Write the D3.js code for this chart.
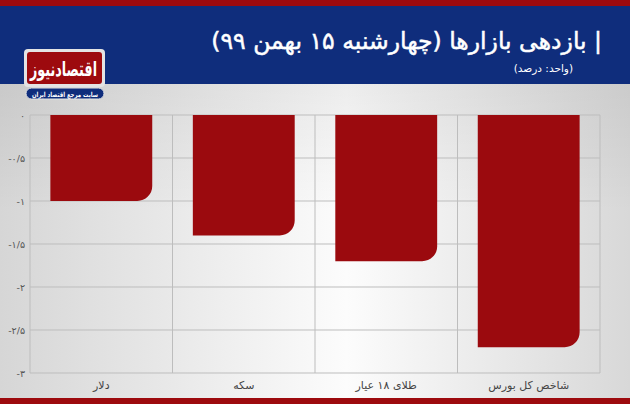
<!DOCTYPE html>
<html><head><meta charset="utf-8">
<script src="https://cdn.jsdelivr.net/npm/d3@7"></script>
<style>
html,body{margin:0;padding:0;}
body{width:630px;height:404px;overflow:hidden;}
svg{display:block;}
</style></head>
<body>
<svg id="c" width="630" height="404"></svg>
<script>
const categories = ["دلار", "سکه", "طلای ۱۸ عیار", "شاخص کل بورس"];
const values = [-1.0, -1.4, -1.7, -2.7];
const yTicks = [0, -0.5, -1, -1.5, -2, -2.5, -3];
const yTickLabels = ["۰", "-۰/۵", "-۱", "-۱/۵", "-۲", "-۲/۵", "-۳"];
const title = "| بازدهی بازارها (چهارشنبه ۱۵ بهمن ۹۹)";
const subtitle = "(واحد: درصد)";

const svg = d3.select("#c");
const W = 630, H = 404;
const FONT = "'DejaVu Sans', 'Noto Sans', sans-serif";
const defs = svg.append("defs");
const bg = defs.append("linearGradient").attr("id","bg").attr("x1","0").attr("x2","1").attr("y1","0").attr("y2","0");
bg.append("stop").attr("offset","0").attr("stop-color","#d6d6d6");
bg.append("stop").attr("offset","0.55").attr("stop-color","#fcfcfc");
bg.append("stop").attr("offset","1").attr("stop-color","#d8d8d8");
const bgv = defs.append("linearGradient").attr("id","bgv").attr("x1","0").attr("x2","0").attr("y1","0").attr("y2","1");
bgv.append("stop").attr("offset","0").attr("stop-color","#000").attr("stop-opacity","0.06");
bgv.append("stop").attr("offset","0.4").attr("stop-color","#000").attr("stop-opacity","0");

svg.append("rect").attr("width",W).attr("height",H).attr("fill","url(#bg)");
svg.append("rect").attr("y",84).attr("width",W).attr("height",H-84).attr("fill","url(#bgv)");
// header
svg.append("rect").attr("x",0).attr("y",0).attr("width",W).attr("height",84).attr("fill","#0f2d7c");
svg.append("rect").attr("x",0).attr("y",0).attr("width",W).attr("height",6).attr("fill","#9d0a0e");
svg.append("rect").attr("x",0).attr("y",398).attr("width",W).attr("height",6).attr("fill","#9d0a0e");

svg.append("text").attr("x",602).attr("y",49).attr("text-anchor","start")
  .attr("direction","rtl")
  .attr("font-family",FONT).attr("font-size",23.5).attr("fill","#fff")
  .attr("stroke","#fff").attr("stroke-width",0.5)
  .text(title);
svg.append("text").attr("x",573).attr("y",72).attr("text-anchor","start")
  .attr("direction","rtl")
  .attr("font-family",FONT).attr("font-size",10.5).attr("fill","#fff")
  .text(subtitle);

// logo
svg.append("rect").attr("x",24).attr("y",49).attr("width",81).attr("height",38).attr("rx",4).attr("fill","#e4e4e4");
svg.append("rect").attr("x",27).attr("y",52).attr("width",75).attr("height",32).attr("rx",3).attr("fill","#9d0a0e");
svg.append("text").attr("x",97).attr("y",76).attr("text-anchor","start").attr("direction","rtl")
  .attr("font-family",FONT).attr("font-weight","bold").attr("font-size",20).attr("fill","#fff")
  .attr("textLength",67).attr("lengthAdjust","spacingAndGlyphs")
  .text("اقتصادنیوز");
svg.append("rect").attr("x",26).attr("y",88).attr("width",78).attr("height",11).attr("rx",5.5).attr("fill","#0f2d7c").attr("stroke","#e4e4e4").attr("stroke-width",1);
svg.append("text").attr("x",98).attr("y",96.5).attr("text-anchor","start").attr("direction","rtl")
  .attr("font-family",FONT).attr("font-weight","bold").attr("font-size",7).attr("fill","#fff")
  .attr("textLength",66).attr("lengthAdjust","spacingAndGlyphs")
  .text("سایت مرجع اقتصاد ایران");

// chart
const m = {l:30, r:600, t:115, b:373};
const x = d3.scaleBand().domain(categories).range([m.l, m.r]).paddingInner(0.285).paddingOuter(0.143);
const y = d3.scaleLinear().domain([0,-3]).range([m.t, m.b]);
const g = svg.append("g");
g.selectAll(".hg").data(yTicks).join("line")
  .attr("x1",m.l).attr("x2",m.r).attr("y1",d=>y(d)).attr("y2",d=>y(d))
  .attr("stroke","#bdbdbd").attr("stroke-width",1);
const bounds = d3.range(categories.length+1).map(i => m.l + i*(m.r-m.l)/categories.length);
g.selectAll(".vg").data(bounds).join("line")
  .attr("x1",d=>d).attr("x2",d=>d).attr("y1",m.t).attr("y2",m.b)
  .attr("stroke","#bdbdbd").attr("stroke-width",1);

const r = 15;
g.selectAll(".bar").data(categories.map((c,i)=>({c, v:values[i]}))).join("path")
  .attr("fill","#9b0a0e")
  .attr("d", d => {
    const x0 = x(d.c), x1 = x0 + x.bandwidth(), y0 = y(0), y1 = y(d.v);
    const rr = Math.min(r, y1-y0);
    return `M${x0},${y0}H${x1}V${y1-rr}A${rr},${rr} 0 0 1 ${x1-rr},${y1}H${x0}Z`;
  });

g.selectAll(".yl").data(yTicks).join("text")
  .attr("x",25).attr("y",d=>y(d)+4).attr("text-anchor","end")
  .attr("font-family",FONT).attr("font-size",9.5).attr("fill","#555")
  .text((d,i)=>yTickLabels[i]);

g.selectAll(".xl").data(categories).join("text")
  .attr("x",d=>x(d)+x.bandwidth()/2).attr("y",389).attr("text-anchor","middle").attr("direction","rtl")
  .attr("font-family",FONT).attr("font-size",11).attr("fill","#444")
  .text(d=>d);
</script>
</body></html>
